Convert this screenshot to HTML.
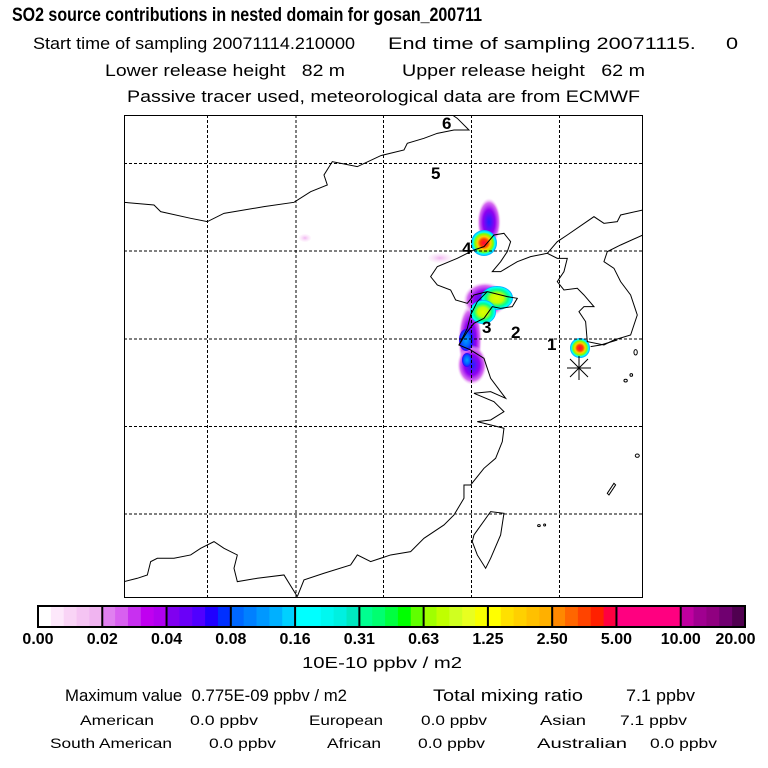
<!DOCTYPE html>
<html><head><meta charset="utf-8"><style>
html,body{margin:0;padding:0;background:#fff}
svg{display:block}
text{font-family:"Liberation Sans",sans-serif;fill:#000;white-space:pre}
</style></head><body>
<svg id="chart" width="768" height="768" viewBox="0 0 768 768" xmlns="http://www.w3.org/2000/svg" xml:space="preserve">
<text x="12" y="21" font-size="19" font-weight="bold" textLength="470" lengthAdjust="spacingAndGlyphs">SO2 source contributions in nested domain for gosan_200711</text>
<text x="33" y="49" font-size="17" textLength="322" lengthAdjust="spacingAndGlyphs">Start time of sampling 20071114.210000</text>
<text x="388" y="49" font-size="17" textLength="350" lengthAdjust="spacingAndGlyphs">End time of sampling 20071115.     0</text>
<text x="105" y="76" font-size="17" textLength="240" lengthAdjust="spacingAndGlyphs">Lower release height   82 m</text>
<text x="402" y="76" font-size="17" textLength="243" lengthAdjust="spacingAndGlyphs">Upper release height   62 m</text>
<text x="127" y="102" font-size="17" textLength="513" lengthAdjust="spacingAndGlyphs">Passive tracer used, meteorological data are from ECMWF</text>

<defs>
<clipPath id="mapclip"><rect x="124" y="115" width="519" height="483"/></clipPath>
<radialGradient id="hot"><stop offset="0" stop-color="#ff0040"/><stop offset="0.3" stop-color="#ff4000"/><stop offset="0.5" stop-color="#ffd000"/><stop offset="0.7" stop-color="#80ff00"/><stop offset="0.85" stop-color="#00ffff"/><stop offset="1" stop-color="#00a0ff"/></radialGradient>
<radialGradient id="mid"><stop offset="0" stop-color="#e0ff00"/><stop offset="0.4" stop-color="#c0ff00"/><stop offset="0.7" stop-color="#00ff90"/><stop offset="0.9" stop-color="#00ffff"/><stop offset="1" stop-color="#0090ff"/></radialGradient>
<radialGradient id="purp"><stop offset="0" stop-color="#2020ff"/><stop offset="0.5" stop-color="#9000f0"/><stop offset="0.8" stop-color="#d870f0"/><stop offset="1" stop-color="#f8e0f8" stop-opacity="0"/></radialGradient>
<radialGradient id="blue"><stop offset="0" stop-color="#00a0ff"/><stop offset="0.6" stop-color="#0060ff"/><stop offset="1" stop-color="#3000ff"/></radialGradient>
<radialGradient id="pink"><stop offset="0" stop-color="#f0b4f0"/><stop offset="1" stop-color="#fde8fb" stop-opacity="0.3"/></radialGradient>
</defs>

<g clip-path="url(#mapclip)">
  <g>
    <ellipse cx="305" cy="238" rx="6" ry="4" fill="url(#pink)"/>
    <ellipse cx="440" cy="258" rx="12" ry="5" fill="url(#pink)"/>
    <ellipse cx="489" cy="222" rx="12" ry="24" fill="url(#purp)"/>
    <ellipse cx="470" cy="340" rx="12" ry="36" fill="url(#purp)"/>
    <ellipse cx="472" cy="365" rx="15" ry="20" fill="url(#purp)"/>
    <ellipse cx="466" cy="340" rx="7" ry="11" fill="url(#blue)"/>
    <ellipse cx="467" cy="360" rx="5" ry="7" fill="url(#blue)"/>
    <ellipse cx="485" cy="300" rx="22" ry="18" fill="url(#purp)"/>
    <ellipse cx="497" cy="298" rx="16" ry="12" fill="url(#mid)"/>
    <ellipse cx="483" cy="312" rx="13" ry="12" fill="url(#mid)"/>
    <circle cx="484" cy="243" r="13" fill="url(#hot)"/>
    <circle cx="580" cy="348" r="10" fill="url(#hot)"/>
  </g>
  <g transform="translate(124,115) scale(0.3333)" fill="none" stroke="#000" stroke-width="3">
    <polyline points="0,262 90,270 110,290 200,310 250,320 300,295 420,275 510,262 560,230 610,210 600,180 625,140 700,155 770,122 840,105 850,85 900,70 940,55 990,45 1035,45 1000,10 985,0"/>
    <polyline points="1557,285 1490,300 1480,320 1440,325 1410,305 1330,360 1300,380 1270,415"/>
    <polyline points="1050,405 1080,395 1110,360 1140,355 1160,380 1150,410 1130,440 1105,470 1130,470 1180,440 1220,425 1270,415 1300,430 1330,430 1320,470 1300,500 1320,525 1360,520 1380,540 1410,575 1380,575 1365,590 1385,620 1390,680 1440,690 1470,675 1520,660 1540,600 1520,540 1490,500 1470,460 1440,440 1450,410 1490,390 1557,360"/>
    <polyline points="1050,405 1000,430 940,455 920,485 940,510 980,525 995,555 1030,565 1050,540 1090,530 1150,545 1180,550 1165,575 1130,580 1105,575 1080,610 1050,625 1030,650 1005,690 1040,705 1080,730 1100,790 1145,850 1100,830 1050,835 1110,860 1140,890 1100,915 1060,920 1140,940 1135,980 1115,1030 1080,1060 1040,1110 1020,1110 1020,1150 990,1200 960,1230 900,1270 860,1310 800,1320 740,1340 700,1320 680,1350 600,1375 540,1395 520,1445"/>
    <polyline points="520,1445 480,1380 400,1390 340,1400 330,1360 340,1320 300,1300 270,1280 230,1300 200,1320 150,1330 100,1330 80,1340 70,1380 40,1390 0,1400"/>
    <polyline points="1090,530 1060,560 1040,600 1030,640 1005,690"/>
    <polygon points="1050,1260 1100,1190 1140,1195 1130,1260 1100,1330 1085,1360 1060,1320 1045,1280"/>
    <polygon points="1450,1135 1470,1105 1475,1110 1455,1140"/>
    <ellipse cx="1535" cy="712" rx="5" ry="8"/><ellipse cx="1505" cy="797" rx="5" ry="4"/><ellipse cx="1522" cy="780" rx="4" ry="4"/>
    <ellipse cx="1540" cy="1022" rx="6" ry="5"/><ellipse cx="1245" cy="1232" rx="4" ry="3"/><ellipse cx="1262" cy="1230" rx="3" ry="3"/>
    <polyline points="1400,695 1430,690 1480,675"/>
  </g>
  <g stroke="#000" stroke-width="1" stroke-dasharray="3,2">
    <line x1="207.5" y1="115" x2="207.5" y2="598"/><line x1="296" y1="115" x2="296" y2="598"/><line x1="383.5" y1="115" x2="383.5" y2="598"/><line x1="471.5" y1="115" x2="471.5" y2="598"/><line x1="559.5" y1="115" x2="559.5" y2="598"/>
    <line x1="124" y1="163.5" x2="643" y2="163.5"/><line x1="124" y1="251" x2="643" y2="251"/><line x1="124" y1="339" x2="643" y2="339"/><line x1="124" y1="426.5" x2="643" y2="426.5"/><line x1="124" y1="514" x2="643" y2="514"/>
  </g>
  <g stroke="#000" stroke-width="1">
    <line x1="579" y1="356" x2="579" y2="380"/><line x1="567" y1="368" x2="591" y2="368"/><line x1="570" y1="359" x2="588" y2="377"/><line x1="588" y1="359" x2="570" y2="377"/>
  </g>
  <g font-size="17" font-weight="bold">
    <text x="442" y="129">6</text><text x="431" y="179">5</text><text x="462" y="254">4</text>
    <text x="482" y="333">3</text><text x="511" y="338">2</text><text x="547" y="350">1</text>
  </g>
</g>
<rect x="124.5" y="115.5" width="518" height="482" fill="none" stroke="#000" stroke-width="1"/>

<g id="colorbar"></g>

<text x="302" y="668" font-size="16" textLength="160" lengthAdjust="spacingAndGlyphs">10E-10 ppbv / m2</text>
<text x="65" y="701" font-size="17" textLength="282" lengthAdjust="spacingAndGlyphs">Maximum value  0.775E-09 ppbv / m2</text>
<text x="433" y="701" font-size="17" textLength="150" lengthAdjust="spacingAndGlyphs">Total mixing ratio</text>
<text x="626" y="701" font-size="17" textLength="69" lengthAdjust="spacingAndGlyphs">7.1 ppbv</text>
<g font-size="14">
<text x="80" y="725" textLength="74" lengthAdjust="spacingAndGlyphs">American</text>
<text x="190" y="725" textLength="68" lengthAdjust="spacingAndGlyphs">0.0 ppbv</text>
<text x="309" y="725" textLength="74" lengthAdjust="spacingAndGlyphs">European</text>
<text x="421" y="725" textLength="66" lengthAdjust="spacingAndGlyphs">0.0 ppbv</text>
<text x="540" y="725" textLength="46" lengthAdjust="spacingAndGlyphs">Asian</text>
<text x="620" y="725" textLength="67" lengthAdjust="spacingAndGlyphs">7.1 ppbv</text>
<text x="50" y="748" textLength="122" lengthAdjust="spacingAndGlyphs">South American</text>
<text x="209" y="748" textLength="67" lengthAdjust="spacingAndGlyphs">0.0 ppbv</text>
<text x="327" y="748" textLength="54" lengthAdjust="spacingAndGlyphs">African</text>
<text x="418" y="748" textLength="67" lengthAdjust="spacingAndGlyphs">0.0 ppbv</text>
<text x="537" y="748" textLength="90" lengthAdjust="spacingAndGlyphs">Australian</text>
<text x="650" y="748" textLength="67" lengthAdjust="spacingAndGlyphs">0.0 ppbv</text>
</g>
</svg>
<script>
const tickLabels = ["0.00","0.02","0.04","0.08","0.16","0.31","0.63","1.25","2.50","5.00","10.00","20.00"];
const segmentColors = [
 ["#ffffff","#fde8fb","#f9d4f6","#f5c4f3","#f0b4f0"],
 ["#e080f0","#d860f0","#c830f0","#c000f0","#b000f0"],
 ["#8000f0","#6a00f8","#5000ff","#2000ff","#0030ff"],
 ["#0068ff","#0080ff","#0098ff","#00b0ff","#00d0ff"],
 ["#00ffff","#00ffff","#00f8f0","#00f0e0","#00e8c0"],
 ["#00ff90","#00ff70","#00ff40","#00ff00","#60ff00"],
 ["#a0ff00","#c0ff00","#d0ff20","#e8ff20","#f8ff00"],
 ["#ffff00","#ffe000","#ffd000","#ffc000","#ffb000"],
 ["#ff8800","#ff6600","#ff4400","#ff2000","#ff0040"],
 ["#ff0080","#ff0080","#ff0080","#ff0080","#ff0080"],
 ["#c000a0","#a00090","#900080","#700070","#500050"]
];
const NS="http://www.w3.org/2000/svg";
const cb=document.getElementById('colorbar');
const x0=38, x1=745, y0=606, h=21;
const segW=(x1-x0)/segmentColors.length;
function xPos(i){return x0+i*segW;}
segmentColors.forEach((cols,i)=>{
  cols.forEach((c,j)=>{
    const r=document.createElementNS(NS,'rect');
    
    
    r.setAttribute('x',xPos(i)+j*segW/cols.length);
    r.setAttribute('y',y0);
    r.setAttribute('width',segW/cols.length+0.5);
    r.setAttribute('height',h);
    r.setAttribute('fill',c);
    cb.appendChild(r);
  });
});
const fr=document.createElementNS(NS,'rect');


fr.setAttribute('x',x0);fr.setAttribute('y',y0);fr.setAttribute('width',x1-x0);fr.setAttribute('height',h);
fr.setAttribute('fill','none');fr.setAttribute('stroke','#000');fr.setAttribute('stroke-width','2');
cb.appendChild(fr);
tickLabels.forEach((t,i)=>{
  const x=xPos(i);
  if(i>0&&i<tickLabels.length-1){
    const l=document.createElementNS(NS,'line');
    
    
    l.setAttribute('x1',x);l.setAttribute('x2',x);l.setAttribute('y1',y0);l.setAttribute('y2',y0+h);
    l.setAttribute('stroke','#000');l.setAttribute('stroke-width','2');
    cb.appendChild(l);
  }
  const tx=document.createElementNS(NS,'text');
  
  
  tx.setAttribute('x',Math.min(x,758-t.length*4.5));
  tx.setAttribute('y',644);
  tx.setAttribute('text-anchor','middle');
  tx.setAttribute('font-size','16');
  tx.setAttribute('font-weight','bold');
  tx.textContent=t;
  cb.appendChild(tx);
});
</script>
</body></html>
